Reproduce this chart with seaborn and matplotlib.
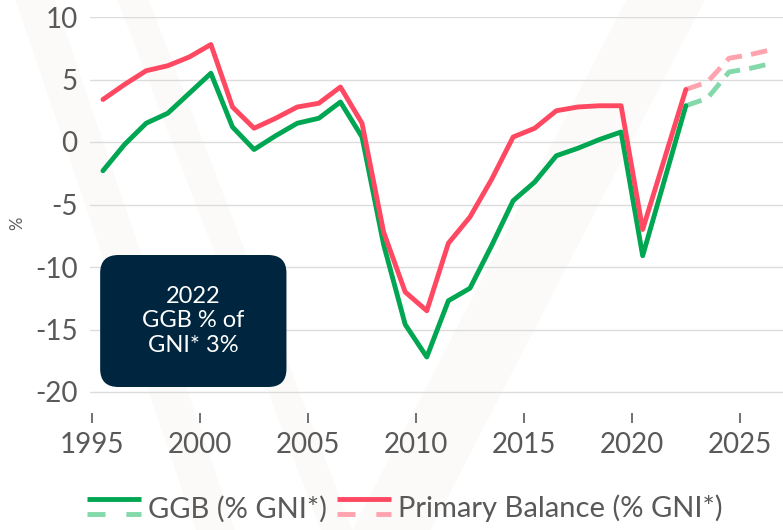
import matplotlib
matplotlib.use('Agg')
import matplotlib.pyplot as plt
import seaborn as sns
import pandas as pd
import numpy as np
from matplotlib.lines import Line2D
from matplotlib.legend_handler import HandlerBase
from matplotlib.patches import FancyBboxPatch, Polygon

# outturn data (plotted at mid-year)
years = list(range(1995, 2023))
ggb = [-2.3, -0.2, 1.5, 2.3, 3.9, 5.5, 1.2, -0.6, 0.5, 1.5, 1.9, 3.2, 0.4,
       -8.2, -14.6, -17.2, -12.7, -11.7, -8.3, -4.7, -3.2, -1.1, -0.5, 0.2,
       0.8, -9.1, -3.1, 2.9]
primary = [3.4, 4.6, 5.7, 6.1, 6.8, 7.8, 2.8, 1.1, 1.9, 2.8, 3.1, 4.4, 1.5,
           -7.2, -12.0, -13.5, -8.1, -6.0, -3.0, 0.4, 1.1, 2.5, 2.8, 2.9,
           2.9, -7.0, -1.4, 4.2]

# forecasts
fc_years = [2022, 2023, 2024, 2025, 2026]
ggb_fc = [2.9, 3.5, 5.6, 5.9, 6.3]
primary_fc = [4.2, 4.8, 6.7, 7.0, 7.4]

xticks = [1995, 2000, 2005, 2010, 2015, 2020, 2025]
yticks = [10, 5, 0, -5, -10, -15, -20]

GREEN = '#00A651'
RED = '#FF4862'
GREEN_L = '#84D9AA'
RED_L = '#FFA3AE'
GREY = '#595959'

sns.set_style('white')
plt.rcParams['font.family'] = ['Lato', 'DejaVu Sans']

hist = pd.DataFrame({'x': np.array(years) + 0.5, 'ggb': ggb, 'pb': primary})
fc = pd.DataFrame({'x': np.array(fc_years) + 0.5, 'ggb': ggb_fc, 'pb': primary_fc})

fig = plt.figure(figsize=(7.83, 5.30), dpi=100)
ax = fig.add_axes([90 / 783, (530 - 413) / 530, 693 / 783, 396 / 530])

# faint background stripes
for pts in [[(0.02, 1.0), (0.07, 1.0), (0.30, 0.0), (0.25, 0.0)],
            [(0.15, 1.0), (0.19, 1.0), (0.45, 0.0), (0.41, 0.0)],
            [(0.80, 1.0), (0.90, 1.0), (0.55, 0.0), (0.45, 0.0)]]:
    fig.patches.append(Polygon(pts, closed=True, transform=fig.transFigure,
                               facecolor='#fbfaf8', edgecolor='none', zorder=-10))
ax.patch.set_alpha(0)

ax.yaxis.grid(True, color='#dcdcdc', linewidth=1)
ax.set_axisbelow(True)

lw = 3.5
sns.lineplot(data=fc, x='x', y='pb', ax=ax, color=RED_L, linewidth=lw,
             linestyle=(0, (3.4, 1.9)))
sns.lineplot(data=fc, x='x', y='ggb', ax=ax, color=GREEN_L, linewidth=lw,
             linestyle=(0, (3.4, 1.9)))
sns.lineplot(data=hist, x='x', y='ggb', ax=ax, color=GREEN, linewidth=lw)
sns.lineplot(data=hist, x='x', y='pb', ax=ax, color=RED, linewidth=lw)

ax.set_xlim(1994.9, 2027.0)
ax.set_ylim(-21.68, 10)
ax.set_xticks(xticks)
ax.set_yticks(yticks)
ax.set_yticklabels([str(v) for v in yticks])
sns.despine(ax=ax, left=True, bottom=True)
ax.tick_params(axis='x', length=7, width=1.2, color=GREY, labelsize=20,
               labelcolor=GREY, pad=7, direction='out', bottom=True)
ax.tick_params(axis='y', length=0, labelsize=20, labelcolor=GREY, pad=9)
ax.set_xlabel('')
ax.set_ylabel('%', color=GREY, fontsize=12)
ax.yaxis.set_label_coords(-0.093, 0.48)

# annotation box
box = FancyBboxPatch((1995.37, -19.6), 8.63, 10.56,
                     boxstyle='round,pad=0,rounding_size=0.85',
                     mutation_aspect=1.7, facecolor='#00263F',
                     edgecolor='none', zorder=5)
ax.add_patch(box)
ax.text(1999.68, -14.3, '2022\nGGB % of\nGNI* 3%', color='white', fontsize=17,
        ha='center', va='center', linespacing=1.2, zorder=6)


class HandlerSolidDashed(HandlerBase):
    def create_artists(self, legend, orig_handle, xdescent, ydescent,
                       width, height, fontsize, trans):
        solid, dashed = orig_handle
        y1 = height * 0.9
        y2 = height * 0.15
        l1 = Line2D([-xdescent, width - xdescent], [y1, y1], color=solid,
                    linewidth=lw, solid_capstyle='butt', transform=trans)
        l2 = Line2D([-xdescent, width - xdescent], [y2, y2], color=dashed,
                    linewidth=lw, linestyle=(0, (3.7, 4.3)),
                    dash_capstyle='butt', transform=trans)
        return [l1, l2]


handles = [(GREEN, GREEN_L), (RED, RED_L)]
labels = ['GGB (% GNI*)', 'Primary Balance (% GNI*)']
fig.legend(handles, labels, handler_map={tuple: HandlerSolidDashed()},
           loc='lower center', bbox_to_anchor=(0.517, -0.035), ncol=2,
           frameon=False, fontsize=21, labelcolor=GREY, handlelength=1.85,
           handletextpad=0.25, columnspacing=0.35)

fig.savefig('out.png', dpi=100)
